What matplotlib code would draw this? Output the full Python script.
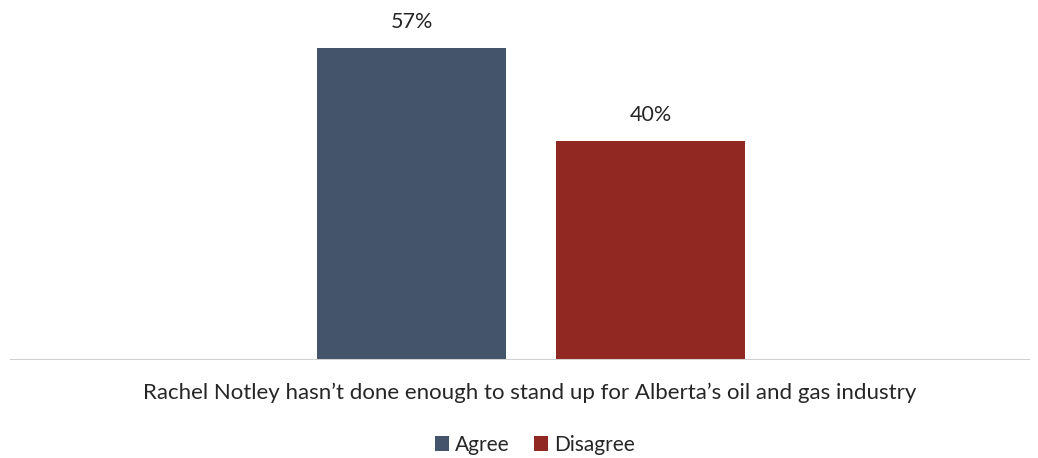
import matplotlib.pyplot as plt

# Survey result: share agreeing / disagreeing with the statement
statement = "Rachel Notley hasn\u2019t done enough to stand up for Alberta\u2019s oil and gas industry"
responses = ["Agree", "Disagree"]
shares = [57, 40]
colors = ["#44546A", "#922822"]

plt.rcParams["font.family"] = ["Lato", "DejaVu Sans"]

fig = plt.figure(figsize=(10.38, 4.58), dpi=100)
ax = fig.add_axes([10 / 1038, 98 / 458, 1020 / 1038, 360 / 458])

positions = [-0.5, 0.5]
for pos, name, val, col in zip(positions, responses, shares, colors):
    ax.bar(pos, val, width=0.787, color=col, label=name, zorder=2)
    ax.text(pos, val + 3.0, f"{val}%", ha="center", va="bottom",
            fontsize=15.5, color="#262626")

ax.set_xlim(-2.18, 2.088)
ax.set_ylim(0, 65.8)
ax.axhline(0, color="#d0d0d0", lw=2.2, zorder=3)
ax.set_xticks([])
ax.set_yticks([])
for s in ax.spines.values():
    s.set_visible(False)

fig.text(530 / 1038, 1 - 393 / 458, statement, ha="center", va="center",
         fontsize=16, color="#262626")

fig.legend(loc="center", bbox_to_anchor=(535 / 1038, 1 - 445 / 458), ncol=2,
           frameon=False, fontsize=15, handlelength=0.65, handleheight=0.7,
           handletextpad=0.3, columnspacing=1.2, labelcolor="#262626")

fig.savefig("out.png", dpi=100)
